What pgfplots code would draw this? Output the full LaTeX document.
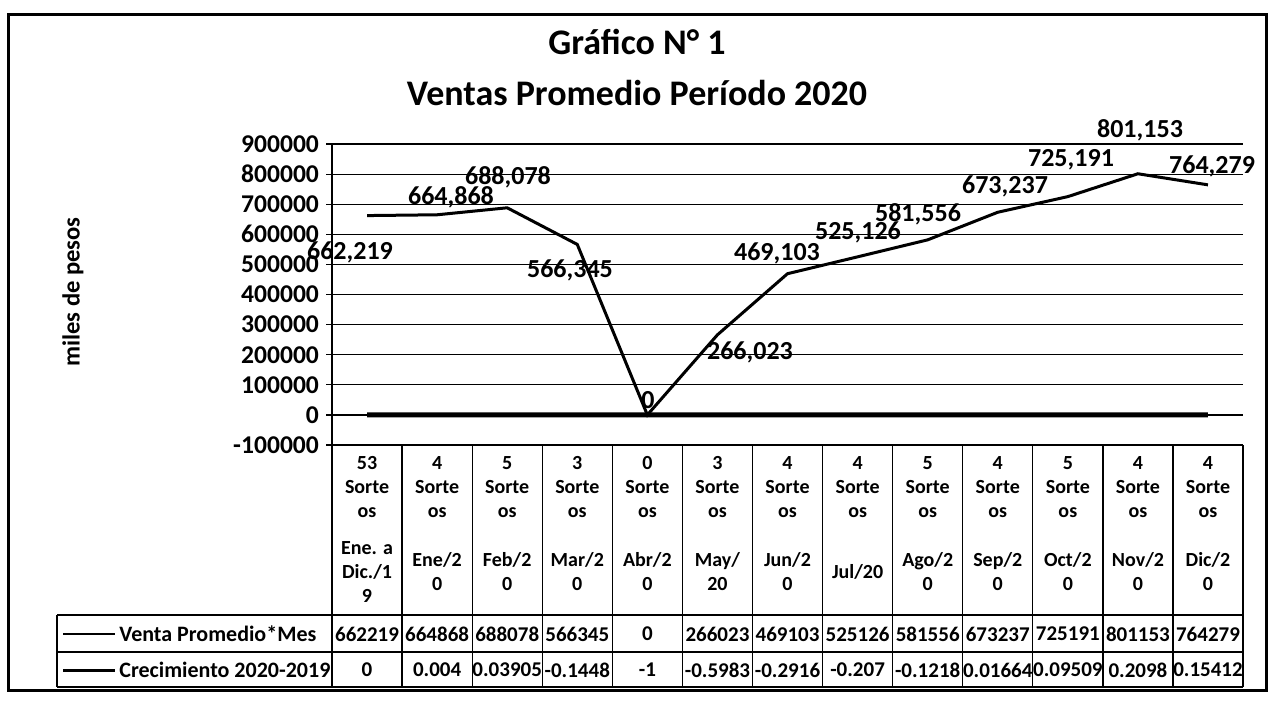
\documentclass[border=0pt]{standalone}
\usepackage{pgfplots}
\pgfplotsset{compat=1.18}
\usepackage{fontspec}
\setmainfont{Carlito}
\begin{document}
\begin{tikzpicture}
\begin{axis}[
  at={(166pt,-222.5pt)}, anchor=south west,
  scale only axis, width=455.5pt, height=150.5pt,
  xmin=-0.5, xmax=12.5, ymin=-100000, ymax=900000,
  xtick=\empty,
  ytick={-100000,0,100000,200000,300000,400000,500000,600000,700000,800000,900000},
  yticklabels={{-100000},0,100000,200000,300000,400000,500000,600000,700000,800000,900000},
  scaled y ticks=false,
  ymajorgrids, grid style={black, line width=0.6pt},
  axis y line*=left, axis x line=none,
  y axis line style={black, line width=0.8pt},
  ytick style={black, line width=0.6pt}, tick align=outside, major tick length=3pt,
  yticklabel style={font=\bfseries\fontsize{12.8}{14}\selectfont},
  clip=false,
]
\addplot[black, line width=1.5pt] coordinates {
 (0,662219) (1,664868) (2,688078) (3,566345) (4,0) (5,266023) (6,469103)
 (7,525126) (8,581556) (9,673237) (10,725191) (11,801153) (12,764279)};
\addplot[black, line width=2.5pt] coordinates {
 (0,0) (1,0.004) (2,0.03905) (3,-0.1448) (4,-1) (5,-0.5983) (6,-0.2916)
 (7,-0.207) (8,-0.1218) (9,0.01664) (10,0.09509) (11,0.2098) (12,0.15412)};
\end{axis}
\begin{scope}[x=0.5pt, y=-0.5pt]
 % border
 \draw[line width=1.5pt] (8,15) rectangle (1266,690);
 % titles
 \node[font=\bfseries\fontsize{18}{20}\selectfont] at (637,42) {Gráfico N° 1};
 \node[font=\bfseries\fontsize{18}{20}\selectfont] at (637,93) {Ventas Promedio Período 2020};
 \node[rotate=90, font=\bfseries\fontsize{12.3}{14}\selectfont] at (73,292) {miles de pesos};
 % data labels
 \tikzset{dl/.style={font=\bfseries\fontsize{13}{14}\selectfont, inner sep=0pt}}
 \node[dl] at (350,252) {662,219};
 \node[dl] at (451,197) {664,868};
 \node[dl] at (508,177) {688,078};
 \node[dl] at (570,270) {566,345};
 \node[dl] at (648,400) {0};
 \node[dl] at (750,352) {266,023};
 \node[dl] at (777,253) {469,103};
 \node[dl] at (858,232) {525,126};
 \node[dl] at (918,214) {581,556};
 \node[dl] at (1005,186) {673,237};
 \node[dl] at (1071,160) {725,191};
 \node[dl] at (1140,130) {801,153};
 \node[dl] at (1212,166) {764,279};
 % table lines
 \foreach \k in {0,...,13} \draw[line width=0.6pt] ({332+70.08*\k},445) -- ({332+70.08*\k},687);
 \draw[line width=0.6pt] (57,615) -- (1243,615);
 \draw[line width=0.6pt] (57,652) -- (1243,652);
 \draw[line width=0.6pt] (57,687) -- (1243,687);
 \draw[line width=0.6pt] (57,615) -- (57,687);
 % header
 \tikzset{hdr/.style={font=\bfseries\fontsize{10}{12}\selectfont, align=center, inner sep=0pt}}
 \foreach \n [count=\k from 0] in {53,4,5,3,0,3,4,4,5,4,5,4,4}
   \node[hdr] at ({332+70.08*(\k+0.5)},487) {\n\\Sorte\\os};
 \foreach \c [count=\k from 0] in {{Ene. a\\Dic./1\\9},{Ene/2\\0},{Feb/2\\0},{Mar/2\\0},{Abr/2\\0},{May/\\20},{Jun/2\\0},{Jul/20},{Ago/2\\0},{Sep/2\\0},{Oct/2\\0},{Nov/2\\0},{Dic/2\\0}}
   \node[hdr] at ({332+70.08*(\k+0.5)},572) {\c};
 % values
 \tikzset{val/.style={font=\bfseries\fontsize{10.5}{12}\selectfont, inner sep=0pt}}
 \foreach \v [count=\k from 0] in {662219,664868,688078,566345,0,266023,469103,525126,581556,673237,725191,801153,764279}
   \node[val] at ({332+70.08*(\k+0.5)},634) {\v};
 \foreach \v [count=\k from 0] in {0,0.004,0.03905,-0.1448,-1,-0.5983,-0.2916,-0.207,-0.1218,0.01664,0.09509,0.2098,0.15412}
   \node[val] at ({332+70.08*(\k+0.5)},670) {\v};
 % legend
 \draw[line width=1pt] (63,634) -- (115,634);
 \node[val, anchor=west, font=\bfseries\fontsize{11}{12}\selectfont] at (119,634) {Venta Promedio*Mes};
 \draw[line width=1.5pt] (63,670) -- (115,670);
 \node[val, anchor=west, font=\bfseries\fontsize{11}{12}\selectfont] at (119,670) {Crecimiento 2020-2019};
 \pgfresetboundingbox
 \path[use as bounding box] (0,0) rectangle (1272,701);
\end{scope}
\end{tikzpicture}
\end{document}
